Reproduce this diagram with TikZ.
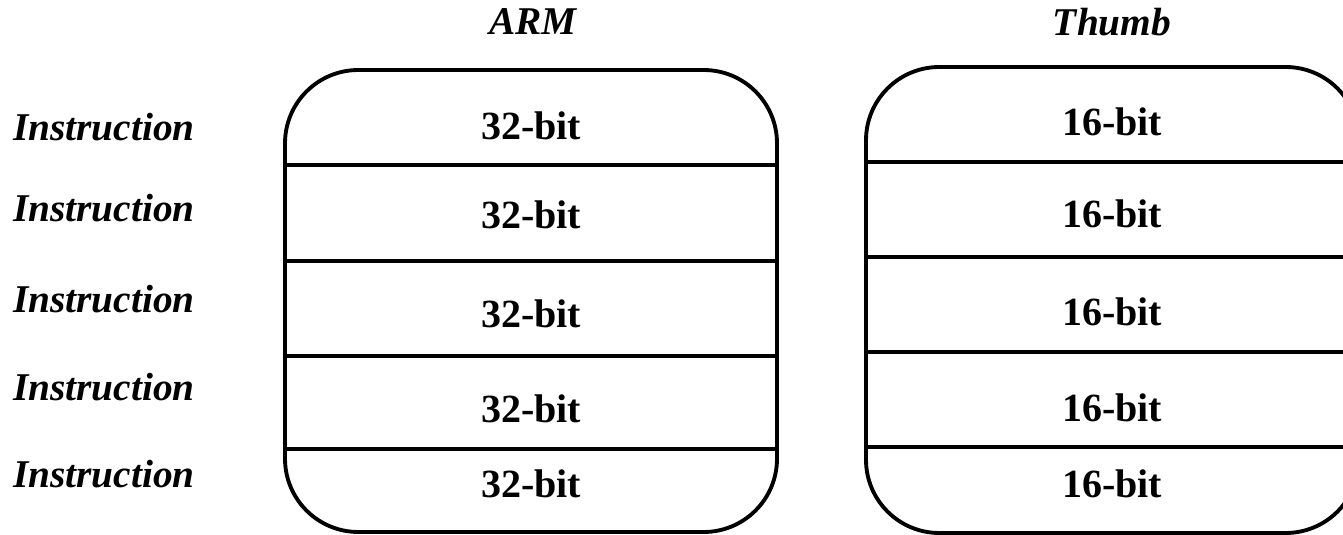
\documentclass[tikz,border=0pt]{standalone}
\usepackage{fontspec}
\setmainfont{Liberation Serif}
\begin{document}
\begin{tikzpicture}[x=0.75pt,y=-0.75pt,
  frame/.style={line width=2.9pt, rounded corners=55pt},
  divider/.style={line width=2.9pt},
  cell/.style={font=\fontsize{30}{35}\selectfont\bfseries, anchor=base, inner sep=0pt},
  rowlabel/.style={font=\fontsize{29.5}{35}\selectfont\bfseries\itshape, anchor=base, inner sep=0pt},
  title/.style={rowlabel}]
\useasboundingbox (0,0) rectangle (1343,535);
\clip (0,0) rectangle (1343,535);

% column headings
\node[title] (armT) at (533,35) {ARM};
\node[title] (thumbT) at (1112,36) {Thumb};

% row labels
\foreach \y [count=\i] in {141,221,312,400,487}
  \node[rowlabel] (instr\i) at (104,\y) {Instruction};

% ARM instruction stack
\draw[frame] (285,70) rectangle (777,532);
\foreach \y in {165,261,356,449}
  \draw[divider] (285,\y) -- (777,\y);
\foreach \y [count=\i] in {140,228,327,422,497}
  \node[cell] (arm\i) at (531,\y) {32-bit};

% Thumb instruction stack
\draw[frame] (866,67) rectangle (1359,533);
\foreach \y in {162,257,352,447}
  \draw[divider] (866,\y) -- (1359,\y);
\foreach \y [count=\i] in {136,227,325,421,497}
  \node[cell] (thumb\i) at (1112,\y) {16-bit};
\end{tikzpicture}
\end{document}
